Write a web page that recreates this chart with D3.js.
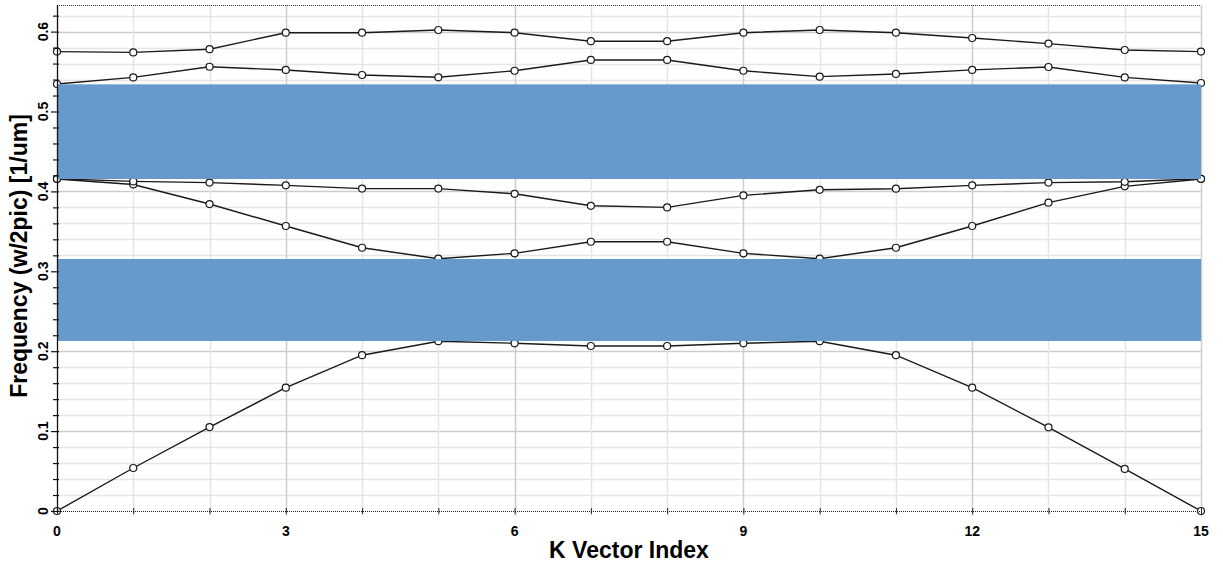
<!DOCTYPE html>
<html>
<head>
<meta charset="utf-8">
<script src="https://cdn.jsdelivr.net/npm/d3@7"></script>
<style>
  html, body { margin: 0; padding: 0; background: #fff; }
  svg { display: block; }
  text { font-family: "Liberation Sans", Arial, sans-serif; font-weight: bold; fill: #000; }
</style>
</head>
<body>
<svg id="chart" width="1223" height="569"></svg>
<script>
// K vector indices along the path
const kIndex = d3.range(0, 16);

// Frequencies (w/2pic, 1/um) of each band, listed from lowest to highest
const mode1 = [0, 0.0538, 0.105, 0.1543, 0.195, 0.2125, 0.2099, 0.2065, 0.2065, 0.2099, 0.2125, 0.195, 0.1543, 0.1047, 0.0526, 0];
const mode2 = [0.4155, 0.4087, 0.3842, 0.3567, 0.3295, 0.3158, 0.3225, 0.337, 0.337, 0.3225, 0.3158, 0.3295, 0.3567, 0.3859, 0.4063, 0.4155];
const mode3 = [0.4158, 0.4125, 0.411, 0.4076, 0.4035, 0.4035, 0.397, 0.382, 0.380, 0.395, 0.402, 0.4034, 0.4076, 0.411, 0.412, 0.4158];
const mode4 = [0.5344, 0.5427, 0.556, 0.552, 0.5457, 0.5428, 0.551, 0.5645, 0.5645, 0.551, 0.5436, 0.547, 0.5521, 0.5557, 0.5427, 0.5357];
const mode5 = [0.575, 0.574, 0.578, 0.5986, 0.5986, 0.602, 0.5986, 0.588, 0.588, 0.5986, 0.602, 0.5986, 0.592, 0.585, 0.577, 0.575];
const modes = [mode1, mode2, mode3, mode4, mode5];

// Band gaps [lower edge, upper edge]
const gapLow = [0.2128, 0.3154];
const gapHigh = [0.4155, 0.534];

// Axis tick labels
const xTickLabels = [0, 3, 6, 9, 12, 15];
const yTickLabels = [0, 0.1, 0.2, 0.3, 0.4, 0.5, 0.6];

const svg = d3.select("#chart");
const plotL = 57, plotR = 1201, plotT = 5, plotB = 511;

const x = d3.scaleLinear().domain([0, 15]).range([plotL, plotR]);
const y = d3.scaleLinear().domain([0, 0.6333]).range([plotB, plotT]);

// Grid
const grid = svg.append("g");
const yGrid = d3.range(1, 32).map(i => i * 0.02);
grid.selectAll("line.hy").data(yGrid).join("line")
  .attr("x1", plotL).attr("x2", plotR)
  .attr("y1", d => Math.round(y(d)) + 0.5).attr("y2", d => Math.round(y(d)) + 0.5)
  .attr("stroke", (d, i) => ((i + 1) % 5 === 0) ? "#cdcdcd" : "#e6e6e6")
  .attr("stroke-width", 1.5);
grid.selectAll("line.vx").data(kIndex.slice(1)).join("line")
  .attr("x1", d => Math.round(x(d)) + 0.5).attr("x2", d => Math.round(x(d)) + 0.5)
  .attr("y1", plotT).attr("y2", plotB + 5)
  .attr("stroke", d => d % 3 === 0 ? "#cdcdcd" : "#e6e6e6")
  .attr("stroke-width", 1.5);

// Dispersion curves
const line = d3.line().x((d, i) => x(kIndex[i])).y(d => y(d));
const curves = svg.append("g");
modes.forEach(m => {
  curves.append("path").datum(m)
    .attr("d", line)
    .attr("fill", "none")
    .attr("stroke", "#1a1a1a")
    .attr("stroke-width", 1.4);
});
modes.forEach(m => {
  curves.append("g").selectAll("circle").data(m).join("circle")
    .attr("cx", (d, i) => x(kIndex[i]))
    .attr("cy", d => y(d))
    .attr("r", 3.5)
    .attr("fill", "#fff")
    .attr("stroke", "#1a1a1a")
    .attr("stroke-width", 1.2);
});

// Band gaps
svg.append("g").selectAll("rect").data([gapLow, gapHigh]).join("rect")
  .attr("x", x(0))
  .attr("width", x(15) - x(0))
  .attr("y", d => y(d[1]))
  .attr("height", d => y(d[0]) - y(d[1]))
  .attr("fill", "#6699cc");

// Top border (dotted)
svg.append("line")
  .attr("x1", plotL).attr("x2", plotR).attr("y1", plotT + 0.5).attr("y2", plotT + 0.5)
  .attr("stroke", "#333").attr("stroke-width", 1).attr("stroke-dasharray", "1,1");

// X axis
const xAxis = d3.axisBottom(x).tickValues(kIndex).tickSize(3).tickFormat(() => "");
const gx = svg.append("g").attr("transform", `translate(0,${plotB})`).call(xAxis);
gx.select(".domain").attr("stroke", "#222").attr("stroke-dasharray", "1,1").attr("d", `M${plotL},0.5H${plotR}`);
gx.selectAll(".tick line").attr("y1", -3).attr("y2", 3).attr("stroke", "#222");
svg.append("g").selectAll("text").data(xTickLabels).join("text")
  .attr("x", d => x(d))
  .attr("y", 536)
  .attr("text-anchor", "middle")
  .attr("font-size", 14)
  .text(d => d);

// Y axis
const yMinor = d3.range(0, 32).map(i => +(i * 0.02).toFixed(2));
const yAxis = d3.axisLeft(y).tickValues(yMinor).tickSize(4).tickFormat(() => "");
const gy = svg.append("g").attr("transform", `translate(${plotL},0)`).call(yAxis);
gy.select(".domain").attr("stroke", "#111").attr("stroke-width", 1.3).attr("d", `M0.5,${plotB}V${plotT}`);
gy.selectAll(".tick line")
  .attr("x1", d => (Math.abs(d * 10 - Math.round(d * 10)) < 1e-6) ? -6 : -4)
  .attr("x2", 2)
  .attr("stroke", "#111")
  .attr("stroke-width", 1.2);
svg.append("g").selectAll("text").data(yTickLabels).join("text")
  .attr("transform", d => `translate(48,${y(d)}) rotate(-90)`)
  .attr("text-anchor", "middle")
  .attr("font-size", 14)
  .text(d => d === 0 ? "0" : d.toFixed(1));

// Axis titles
svg.append("text")
  .attr("x", 629).attr("y", 558)
  .attr("text-anchor", "middle")
  .attr("font-size", 23)
  .text("K Vector Index");
svg.append("text")
  .attr("transform", "translate(27,256) rotate(-90)")
  .attr("text-anchor", "middle")
  .attr("font-size", 23)
  .text("Frequency (w/2pic) [1/um]");
</script>
</body>
</html>
